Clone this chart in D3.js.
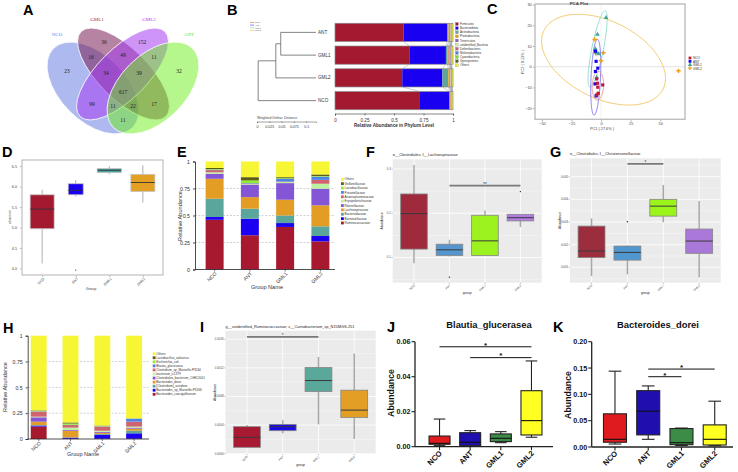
<!DOCTYPE html>
<html>
<head>
<meta charset="utf-8">
<script src="https://cdn.jsdelivr.net/npm/d3@7"></script>
<style>
html,body{margin:0;padding:0;background:#fff;}
svg{display:block;font-family:"Liberation Sans",Arial,Helvetica,sans-serif;}
</style>
</head>
<body>
<svg id="fig" width="738" height="472"></svg>
<script>
// ================= DATA =================
const groups = ["NCO","ANT","GML1","GML2"];

// A: Venn diagram of shared OTUs
const vennSets = ["NCO","GML1","GML2","ANT"];
const vennKeys = ["1000","0100","0010","0001","1100","0110","0011","1110","0111","1111","1010","0101","1011","1101","1001"];
const vennCounts = [23,36,152,32,16,49,11,34,39,617,99,17,11,22,11];

// B: phylum level + UPGMA tree
const phyla = ["Firmicutes","Bacteroidetes","Actinobacteria","Proteobacteria","Tenericutes","unidentified_Bacteria","Deferribacteres","Melainabacteria","Cyanobacteria","Synergistetes","Others"];
const phylumGroups = ["ANT","GML1","GML2","NCO"];
const phylumANT  = [0.58,0.37,0.012,0.008,0.006,0.004,0.003,0.003,0.002,0.002,0.010];
const phylumGML1 = [0.63,0.31,0.012,0.012,0.008,0.004,0.004,0.004,0.003,0.002,0.011];
const phylumGML2 = [0.57,0.34,0.050,0.010,0.008,0.004,0.003,0.003,0.002,0.002,0.008];
const phylumNCO  = [0.72,0.25,0.006,0.006,0.004,0.003,0.002,0.002,0.001,0.001,0.005];
const treeHeights = [0.072,0.082,0.118]; // (ANT,GML1) ; +GML2 ; +NCO
const unifracTicks = [0,0.025,0.05,0.075,0.1];
const abundTicks = [0,0.25,0.5,0.75,1];

// C: PCA
const pcaNCO  = [[-3.7,-5.9],[-3.1,-8.0],[1.4,-8.8],[-2.8,-9.9],[-3.7,-13.7],[-2.4,-12.8]];
const pcaANT  = [[-4.8,7.5],[-4.2,2.6],[-2.8,-0.7],[-4.8,-2.3],[-5.1,-8.3],[-4.2,-14.1]];
const pcaGML1 = [[4.2,23.7],[-3.1,15.6],[-4.8,8.6],[-3.7,6.7],[-2.0,6.2],[-3.7,-5.2]];
const pcaGML2 = [[-5.4,13.2],[2.0,6.7],[0.0,2.9],[-4.5,6.5],[65.5,-2.0],[-3.1,-13.3]];
// ellipse: centre, conjugate semi-diameters (data units)
const pcaEllNCO  = {c:[-2.7,-9.2], u:[0.4,6.9],   v:[4.8,0]};
const pcaEllANT  = {c:[-4.5,-5.1], u:[1.4,18.3],  v:[4.0,0]};
const pcaEllGML1 = {c:[-2.95,8.55],u:[6.35,18.45],v:[5.0,0]};
const pcaEllGML2 = {c:[2.1,3.4],   u:[52.4,-9.0], v:[0,20]};
const pcaXTicks = [-50,-25,0,25,50];
const pcaYTicks = [-20,-10,0,10,20,30];

// D: Shannon index  [min,q1,median,q3,max]
const shannonStats = [[4.12,4.97,5.45,5.80,5.92],[5.76,5.80,5.91,6.07,6.16],[6.30,6.34,6.40,6.44,6.50],[5.61,5.88,6.10,6.30,6.52]];
const shannonOutliers = [[],[3.96],[],[]];
const shannonTicks = [4.0,4.5,5.0,5.5,6.0,6.5];

// E: family level
const familyNames = ["Ruminococcaceae","Barnesiellaceae","Bacteroidaceae","Lachnospiraceae","Rikenellaceae","Erysipelotrichaceae","Anaeroplasmataceae","Prevotellaceae","Lactobacillaceae","Veillonellaceae","Others"];
const familyNCO  = [0.460,0.026,0.169,0.185,0.046,0.014,0.020,0.005,0.005,0.010,0.060];
const familyANT  = [0.317,0.153,0.093,0.107,0.115,0.005,0.005,0.005,0.025,0.030,0.145];
const familyGML1 = [0.394,0.036,0.070,0.146,0.154,0.010,0.005,0.025,0.005,0.010,0.145];
const familyGML2 = [0.260,0.050,0.090,0.194,0.154,0.046,0.036,0.030,0.005,0.015,0.120];

// F: Lachnospiraceae
const lachnoStats = [[0.0872,0.119,0.1992,0.2436,0.309],[0.1023,0.1045,0.1173,0.130,0.140],[0.1045,0.1045,0.1376,0.1955,0.206],[0.169,0.1827,0.190,0.1977,0.1977]];
const lachnoOutliers = [[],[0.0556],[],[0.249]];
const lachnoTicks = [0.1,0.2,0.3];

// G: Christensenellaceae
const christStats = [[0.00062,0.00143,0.00172,0.00282,0.00316],[0.00069,0.00132,0.00166,0.00194,0.00196],[0.00299,0.00326,0.0037,0.0040,0.00463],[0.00056,0.00162,0.00216,0.00269,0.00393]];
const christOutliers = [[],[0.00301],[],[]];
const christTicks = [0.001,0.002,0.003,0.004,0.005];

// H: species level
const speciesNames = ["Bacteroides_caecigallinarum","Bacteroides_sp_Marseille-P3166","[Clostridium]_scindens","Bacteroides_dorei","Clostridiales_bacterium_CHKCI001","bacterium_ic1379","Clostridium_sp_Marseille-P3244","Blautia_glucerasea","Escherichia_coli","Lactobacillus_salivarius","Others"];
const speciesNCO  = [0.120,0.010,0.005,0.033,0.042,0.006,0.049,0.003,0.004,0.005,0.723];
const speciesANT  = [0.002,0.011,0.003,0.064,0.007,0.023,0.025,0.003,0.012,0.010,0.840];
const speciesGML1 = [0.002,0.038,0.008,0.012,0.010,0.010,0.040,0.003,0.003,0.004,0.870];
const speciesGML2 = [0.002,0.053,0.025,0.020,0.010,0.010,0.048,0.029,0.002,0.001,0.800];

// I: Carnobacterium sp.
const carnoStats = [[0.0000884,0.0000884,0.000228,0.000377,0.0004],[0.000284,0.000321,0.000377,0.000409,0.00047],[0.000409,0.00087,0.001023,0.001205,0.001353],[0.000205,0.000507,0.000609,0.000888,0.0014]];
const carnoTicks = [0,0.0004,0.0008,0.0012,0.0016];

// J: Blautia_glucerasea
const blautiaStats = [[0.0006,0.0014,0.0019,0.0061,0.0158],[0.0002,0.0006,0.0025,0.0080,0.0092],[0.0023,0.0029,0.0048,0.0073,0.0086],[0.0054,0.0067,0.0149,0.0320,0.0490]];
const blautiaTicks = [0,0.02,0.04,0.06];

// K: Bacteroides_dorei
const doreiStats = [[0.0057,0.009,0.0146,0.063,0.144],[0.0146,0.023,0.068,0.107,0.116],[0.003,0.0044,0.0082,0.035,0.036],[0.0025,0.0038,0.0146,0.042,0.087]];
const doreiTicks = [0,0.05,0.10,0.15,0.20];

// ================= STYLE =================
const phylumColors = ["#A3192F","#1A00F0","#5FA69A","#E8A020","#8A5BD0","#C8F0A0","#C86464","#4F7CE0","#7CDD20","#5A5A1A","#F0F020"];
const stackColors  = ["#A6192E","#1C00F2","#5BA69C","#E39D25","#8456D6","#BDF2A0","#D0646E","#4E82E8","#8CF028","#5B5B14","#F6F634"];

const svg = d3.select("#fig");
svg.append("rect").attr("width",738).attr("height",472).attr("fill","#fff");

function box(g, cx, bw, s, y, st){
  g.append("line").attr("x1",cx).attr("x2",cx).attr("y1",y(s[4])).attr("y2",y(s[3])).attr("stroke",st.wc).attr("stroke-width",st.ww);
  g.append("line").attr("x1",cx).attr("x2",cx).attr("y1",y(s[1])).attr("y2",y(s[0])).attr("stroke",st.wc).attr("stroke-width",st.ww);
  if(st.cap){ [s[0],s[4]].forEach(v=>g.append("line").attr("x1",cx-bw*st.cap/2).attr("x2",cx+bw*st.cap/2).attr("y1",y(v)).attr("y2",y(v)).attr("stroke",st.wc).attr("stroke-width",st.ww)); }
  g.append("rect").attr("x",cx-bw/2).attr("width",bw).attr("y",y(s[3])).attr("height",Math.max(0.6,y(s[1])-y(s[3])))
    .attr("fill",st.fill).attr("stroke",st.bc).attr("stroke-width",st.bw);
  g.append("line").attr("x1",cx-bw/2).attr("x2",cx+bw/2).attr("y1",y(s[2])).attr("y2",y(s[2])).attr("stroke",st.mc).attr("stroke-width",st.mw);
}

// ================= A =================
(function(){
  const g = svg.append("g");
  const shapes = [
    {cx:93,   cy:88, rx:56, ry:33, rot:45,  fill:"#5E76E0", op:0.5},
    {cx:123.5,cy:74, rx:60, ry:25, rot:45,  fill:"#7A1F55", op:0.55},
    {cx:122.5,cy:74, rx:60, ry:25, rot:-45, fill:"#A53DF0", op:0.55},
    {cx:153,  cy:88, rx:56, ry:33, rot:-45, fill:"#6CF01C", op:0.5}];
  shapes.forEach(s=>g.append("ellipse").attr("rx",s.rx).attr("ry",s.ry)
    .attr("transform",`translate(${s.cx},${s.cy}) rotate(${s.rot})`)
    .attr("fill",s.fill).attr("fill-opacity",s.op).attr("stroke","#fff").attr("stroke-width",0.8));
  function inside(s,x,y){const a=s.rot*Math.PI/180,dx=x-s.cx,dy=y-s.cy;
    const u=dx*Math.cos(a)+dy*Math.sin(a), v=-dx*Math.sin(a)+dy*Math.cos(a);
    return u*u/(s.rx*s.rx)+v*v/(s.ry*s.ry)<1;}
  // region label = pole of inaccessibility on a 1px grid
  const X0=20,X1=230,Y0=10,Y1=150, W=X1-X0+1;
  const keyAt=(x,y)=>shapes.map(s=>inside(s,x,y)?"1":"0").join("");
  const grid=[];
  for(let y=Y0;y<=Y1;y++) for(let x=X0;x<=X1;x++) grid.push(keyAt(x,y));
  const kk=(x,y)=>(x<X0||x>X1||y<Y0||y>Y1)?"0000":grid[(y-Y0)*W+(x-X0)];
  const pts={}, bnd={};
  for(let y=Y0;y<=Y1;y++) for(let x=X0;x<=X1;x++){
    const k=kk(x,y); if(k==="0000") continue;
    (pts[k]=pts[k]||[]).push([x,y]);
    if(kk(x+1,y)!==k||kk(x-1,y)!==k||kk(x,y+1)!==k||kk(x,y-1)!==k) (bnd[k]=bnd[k]||[]).push([x,y]);
  }
  vennKeys.forEach((k,i)=>{
    const P=pts[k], B=bnd[k]; if(!P) return;
    let best=null, bd=-1;
    P.forEach(p=>{let m=1e9; for(const b of B){const d=(p[0]-b[0])**2+(p[1]-b[1])**2; if(d<m) m=d; if(m<=bd) break;} if(m>bd){bd=m; best=p;}});
    g.append("text").attr("x",best[0]).attr("y",best[1]+2).attr("text-anchor","middle")
     .attr("font-size",5.5).attr("font-family","'Liberation Serif',serif").attr("fill","#222").text(vennCounts[i]);});
  const labCol = ["#6A80E8","#86305F","#A53DF0","#6CDC10"];
  const labPos = [[57,36],[97,21],[149,21],[189,36]];
  vennSets.forEach((n,i)=>g.append("text").attr("x",labPos[i][0]).attr("y",labPos[i][1]).attr("text-anchor","middle")
     .attr("font-size",5).attr("font-family","'Liberation Serif',serif").attr("fill",labCol[i]).text(n));
})();

// ================= B =================
(function(){
  const g = svg.append("g");
  const data = {ANT:phylumANT,GML1:phylumGML1,GML2:phylumGML2,NCO:phylumNCO};
  const x = d3.scaleLinear([0,1],[335,453]);
  const y = d3.scaleBand(phylumGroups,[21,112]).paddingInner(0.2).paddingOuter(0.1);
  const bw = y.bandwidth();
  const cum={};
  phylumGroups.forEach(k=>{let c=0; cum[k]=data[k].map(v=>{const s=c; c+=v; return [s,c];});});
  for(let i=0;i<phylumGroups.length-1;i++){
    const a=phylumGroups[i], b=phylumGroups[i+1];
    for(let j=0;j<phyla.length-1;j++){
      g.append("line").attr("x1",x(cum[a][j][1])).attr("y1",y(a)+bw).attr("x2",x(cum[b][j][1])).attr("y2",y(b))
       .attr("stroke","#9a9a9a").attr("stroke-width",0.5);
    }
  }
  phylumGroups.forEach(k=>{
    cum[k].forEach((c,j)=>g.append("rect").attr("x",x(c[0])).attr("y",y(k)).attr("width",Math.max(0,x(c[1])-x(c[0]))).attr("height",bw).attr("fill",phylumColors[j]));
    g.append("rect").attr("x",x(0)).attr("y",y(k)).attr("width",x(1)-x(0)).attr("height",bw).attr("fill","none").attr("stroke","#8a8a8a").attr("stroke-width",0.7);
  });
  const ax = g.append("g").attr("transform","translate(0,113.5)")
    .call(d3.axisBottom(x).tickValues(abundTicks).tickSize(2).tickFormat(d=>d===0?"0":d===1?"1":String(d)));
  ax.selectAll("text").attr("font-size",4.6).attr("fill","#333");
  ax.selectAll("line,path").attr("stroke","#333").attr("stroke-width",0.6);
  g.append("text").attr("x",394).attr("y",126.5).attr("text-anchor","middle").attr("font-size",4.6).attr("font-weight","bold").attr("fill","#333").text("Relative Abundance in Phylum Level");
  // tree
  const leafX=316, ts=d3.scaleLinear([0,0.1],[0,49]);
  const cy=k=>y(k)+bw/2;
  const n1={x:leafX-ts(treeHeights[0]), y:(cy("ANT")+cy("GML1"))/2};
  const n2={x:leafX-ts(treeHeights[1]), y:(n1.y+cy("GML2"))/2};
  const n3={x:leafX-ts(treeHeights[2]), y:(n2.y+cy("NCO"))/2};
  const p=d3.path();
  p.moveTo(leafX,cy("ANT")); p.lineTo(n1.x,cy("ANT")); p.lineTo(n1.x,cy("GML1")); p.lineTo(leafX,cy("GML1"));
  p.moveTo(n1.x,n1.y); p.lineTo(n2.x,n1.y); p.moveTo(leafX,cy("GML2")); p.lineTo(n2.x,cy("GML2")); p.lineTo(n2.x,n1.y);
  p.moveTo(n2.x,n2.y); p.lineTo(n3.x,n2.y); p.moveTo(leafX,cy("NCO")); p.lineTo(n3.x,cy("NCO")); p.lineTo(n3.x,n2.y);
  g.append("path").attr("d",p.toString()).attr("fill","none").attr("stroke","#666").attr("stroke-width",0.8);
  phylumGroups.forEach(k=>g.append("text").attr("x",318).attr("y",cy(k)+1.6).attr("font-size",4.6).attr("fill","#333").text(k));
  // scale bar
  const sb=d3.scaleLinear([0,0.12],[257,316]);
  g.append("text").attr("x",257).attr("y",118.5).attr("font-size",3.4).attr("fill","#444").text("Weighted Unifrac Distance");
  const sax=g.append("g").attr("transform","translate(0,121.5)").call(d3.axisBottom(sb).tickValues(unifracTicks).tickSize(1.5).tickFormat(d=>String(d)));
  sax.selectAll("text").attr("font-size",3.6).attr("fill","#333").attr("dy","0.5em");
  sax.selectAll("line,path").attr("stroke","#444").attr("stroke-width",0.5);
  // mini legend
  const mini=["NCO","ANT","GML1","GML2"], miniC=["#E06060","#3A3AF0","#7ED6C8","#F0B040"];
  mini.forEach((n,i)=>{g.append("line").attr("x1",250).attr("x2",254).attr("y1",22.5+i*2.6).attr("y2",22.5+i*2.6).attr("stroke",miniC[i]).attr("stroke-width",0.6);
    g.append("text").attr("x",255).attr("y",23.3+i*2.6).attr("font-size",2.2).attr("fill","#666").text(n);});
  // phylum legend
  phyla.forEach((n,i)=>{const yy=22.6+i*4.13;
    g.append("rect").attr("x",455.5).attr("y",yy).attr("width",2.8).attr("height",2.8).attr("fill",phylumColors[i]).attr("stroke","#555").attr("stroke-width",0.2);
    g.append("text").attr("x",460).attr("y",yy+2.4).attr("font-size",3).attr("fill","#333").text(n);});
})();

// ================= C =================
(function(){
  const g=svg.append("g");
  const x=d3.scaleLinear([-55.9,71],[535,685]);
  const y=d3.scaleLinear([-25.4,30.3],[119.3,4]);
  g.append("line").attr("x1",535).attr("x2",685).attr("y1",y(0)).attr("y2",y(0)).attr("stroke","#d0d0d0").attr("stroke-width",0.6);
  g.append("line").attr("x1",x(0)).attr("x2",x(0)).attr("y1",4).attr("y2",119.3).attr("stroke","#e2e2e2").attr("stroke-width",0.5);
  const ells=[[pcaEllGML2,"#F2C560"],[pcaEllGML1,"#86D8CB"],[pcaEllANT,"#7B70F2"],[pcaEllNCO,"#EC8C92"]];
  const line=d3.line().x(d=>x(d[0])).y(d=>y(d[1]));
  ells.forEach(([e,col])=>{
    const pts=d3.range(0,2*Math.PI+0.01,Math.PI/90).map(t=>[e.c[0]+e.u[0]*Math.cos(t)+e.v[0]*Math.sin(t), e.c[1]+e.u[1]*Math.cos(t)+e.v[1]*Math.sin(t)]);
    g.append("path").attr("d",line(pts)).attr("fill","none").attr("stroke",col).attr("stroke-width",0.9);
  });
  const sets=[[pcaGML2,d3.symbolCross,"#F0A020",11],[pcaGML1,d3.symbolTriangle,"#3FA89A",10],[pcaANT,d3.symbolSquare,"#1A00F0",10],[pcaNCO,d3.symbolSquare,"#C0163A",10]];
  sets.forEach(([pts,sym,col,sz])=>pts.forEach(p=>g.append("path").attr("d",d3.symbol().type(sym).size(sz)())
      .attr("transform",`translate(${x(p[0])},${y(p[1])})`).attr("fill",col)));
  g.append("rect").attr("x",535).attr("y",4).attr("width",150).attr("height",115.3).attr("fill","none").attr("stroke","#bdbdbd").attr("stroke-width",1.4);
  const xa=g.append("g").attr("transform","translate(0,120)").call(d3.axisBottom(x).tickValues(pcaXTicks).tickSize(1.5).tickPadding(0.8));
  const ya=g.append("g").attr("transform","translate(534.3,0)").call(d3.axisLeft(y).tickValues(pcaYTicks).tickSize(1.5).tickPadding(1.2));
  [xa,ya].forEach(a=>{a.select(".domain").remove(); a.selectAll("text").attr("font-size",3.8).attr("fill","#444"); a.selectAll("line").attr("stroke","#666").attr("stroke-width",0.5);});
  g.append("text").attr("x",602).attr("y",129.5).attr("text-anchor","middle").attr("font-size",3.8).attr("fill","#444").text("PC1 ( 27.6% )");
  g.append("text").attr("transform","translate(524,62) rotate(-90)").attr("text-anchor","middle").attr("font-size",3.8).attr("fill","#444").text("PC2 ( 9.13% )");
  g.append("text").attr("x",579).attr("y",4.8).attr("text-anchor","middle").attr("font-size",4.4).attr("font-weight","bold").attr("fill","#444").text("PCA Plot");
  const lg=[["NCO",d3.symbolSquare,"#C0163A"],["ANT",d3.symbolSquare,"#1A00F0"],["GML1",d3.symbolTriangle,"#3FA89A"],["GML2",d3.symbolCross,"#F0A020"]];
  lg.forEach(([n,sym,col],i)=>{g.append("path").attr("d",d3.symbol().type(sym).size(8)()).attr("transform",`translate(690,${58+i*3.4})`).attr("fill",col);
    g.append("text").attr("x",693).attr("y",59.3+i*3.4).attr("font-size",3.2).attr("fill","#333").text(n);});
})();

// ================= D =================
(function(){
  const g=svg.append("g");
  const x=d3.scalePoint(groups,[22,163]).padding(0.6);
  const y=d3.scaleLinear([3.84,6.65],[275,160]);
  const cols=["#A3192F","#1A00F0","#4AA39A","#E3A024"], widths=[24,15,24,24];
  groups.forEach((k,i)=>{box(g,x(k),widths[i],shannonStats[i],y,{wc:"#9a9a9a",ww:0.8,bc:"#c4c4c4",bw:0.8,mc:"#333",mw:0.9,fill:cols[i]});
    shannonOutliers[i].forEach(v=>g.append("circle").attr("cx",x(k)).attr("cy",y(v)).attr("r",0.6).attr("fill","#333"));});
  g.append("rect").attr("x",22).attr("y",160).attr("width",141).attr("height",115).attr("fill","none").attr("stroke","#aaa").attr("stroke-width",0.9);
  const ya=g.append("g").attr("transform","translate(21.5,0)").call(d3.axisLeft(y).tickValues(shannonTicks).tickSize(1.5).tickFormat(d3.format(".1f")));
  const xa=g.append("g").attr("transform","translate(0,275.5)").call(d3.axisBottom(x).tickSize(1.5));
  [xa,ya].forEach(a=>{a.select(".domain").remove(); a.selectAll("line").attr("stroke","#777").attr("stroke-width",0.5);});
  ya.selectAll("text").attr("font-size",3.8).attr("fill","#444");
  xa.selectAll("text").attr("font-size",3.6).attr("fill","#444").attr("text-anchor","end").attr("dy",0).attr("y",3).attr("transform","rotate(-45) translate(-1,1)");
  g.append("text").attr("x",91).attr("y",290).attr("text-anchor","middle").attr("font-size",3.8).attr("fill","#444").text("Group");
  g.append("text").attr("transform","translate(11,217) rotate(-90)").attr("text-anchor","middle").attr("font-size",3.6).attr("fill","#444").text("shannon");
})();

// ================= stacked (E, H) =================
function stackedPanel(o){
  const g=svg.append("g");
  const x=d3.scaleBand(groups,[o.bx0,o.bx1]).paddingInner(o.pi).paddingOuter(o.po);
  const y=d3.scaleLinear([0,1],[o.y0,o.y1]);
  [0.25,0.5,0.75].forEach(t=>g.append("line").attr("x1",o.ax0).attr("x2",o.ax1).attr("y1",y(t)).attr("y2",y(t))
     .attr("stroke","#b0b0b0").attr("stroke-width",0.6).attr("stroke-dasharray","2,1.5"));
  groups.forEach((k,i)=>{let c=0; o.values[i].forEach((v,j)=>{g.append("rect").attr("x",x(k)).attr("width",x.bandwidth()).attr("y",y(c+v)).attr("height",Math.max(0,y(c)-y(c+v))).attr("fill",stackColors[j]); c+=v;});});
  const ya=g.append("g").attr("transform",`translate(${o.ax0},0)`).call(d3.axisLeft(y).tickValues(abundTicks).tickSize(2).tickFormat(d=>d===0?"0":d===1?"1":String(d)));
  ya.selectAll("text").attr("font-size",5.2).attr("fill","#333");
  ya.selectAll("line,path").attr("stroke","#222").attr("stroke-width",0.8);
  g.append("line").attr("x1",o.ax0).attr("x2",o.ax1).attr("y1",o.y0).attr("y2",o.y0).attr("stroke","#222").attr("stroke-width",0.8);
  groups.forEach(k=>{const cx=x(k)+x.bandwidth()/2;
    g.append("line").attr("x1",cx).attr("x2",cx).attr("y1",o.y0).attr("y2",o.y0+2).attr("stroke","#222").attr("stroke-width",0.6);
    g.append("text").attr("transform",`translate(${cx+2.5},${o.y0+4.5}) rotate(-45)`).attr("text-anchor","end").attr("font-size",5).attr("fill","#333").text(k);});
  g.append("text").attr("x",o.xlab[0]).attr("y",o.xlab[1]).attr("text-anchor","middle").attr("font-size",5.6).attr("fill","#333").text("Group Name");
  g.append("text").attr("transform",`translate(${o.ylab[0]},${o.ylab[1]}) rotate(-90)`).attr("text-anchor","middle").attr("font-size",5.6).attr("fill","#333").text("Relative Abundance");
  const n=o.names.length;
  for(let i=n-1;i>=0;i--){const yy=o.lg[1]+(n-1-i)*o.lg[2];
    g.append("rect").attr("x",o.lg[0]).attr("y",yy-1.4).attr("width",2.8).attr("height",2.8).attr("fill",stackColors[i]);
    g.append("text").attr("x",o.lg[0]+3.6).attr("y",yy+1.1).attr("font-size",3.1).attr("fill","#333").text(o.names[i]);}
}
stackedPanel({values:[familyNCO,familyANT,familyGML1,familyGML2],names:familyNames,bx0:197,bx1:338,pi:0.49,po:0.245,
  y0:269.5,y1:161.5,ax0:195,ax1:335,xlab:[267,288.5],ylab:[181.5,216],lg:[341,179.3,4.37]});
stackedPanel({values:[speciesNCO,speciesANT,speciesGML1,speciesGML2],names:speciesNames,bx0:22.8,bx1:150,pi:0.5,po:0.25,
  y0:439,y1:335.7,ax0:27.7,ax1:149,xlab:[83,456],ylab:[6.5,387],lg:[152.7,353.7,4.06]});

// ================= ggplot style (F, G, I) =================
function ggPanel(o){
  const g=svg.append("g");
  const x=d3.scalePoint(groups,[o.x0,o.x1]).padding(0.6);
  const y=d3.scaleLinear(o.domain,[o.y1,o.y0]);
  g.append("rect").attr("x",o.x0).attr("y",o.y0).attr("width",o.x1-o.x0).attr("height",o.y1-o.y0).attr("fill","#EBEBEB");
  const minor=[];
  for(let i=0;i<o.ticks.length-1;i++) minor.push((o.ticks[i]+o.ticks[i+1])/2);
  const st=o.ticks[1]-o.ticks[0];
  minor.push(o.ticks[0]-st/2, o.ticks[o.ticks.length-1]+st/2);
  minor.filter(v=>v>o.domain[0]&&v<o.domain[1]).forEach(v=>g.append("line").attr("x1",o.x0).attr("x2",o.x1).attr("y1",y(v)).attr("y2",y(v)).attr("stroke","#fff").attr("stroke-width",0.35));
  o.ticks.forEach(v=>g.append("line").attr("x1",o.x0).attr("x2",o.x1).attr("y1",y(v)).attr("y2",y(v)).attr("stroke","#fff").attr("stroke-width",0.8));
  groups.forEach(k=>g.append("line").attr("x1",x(k)).attr("x2",x(k)).attr("y1",o.y0).attr("y2",o.y1).attr("stroke","#fff").attr("stroke-width",0.8));
  const bw=x.step()*0.75;
  groups.forEach((k,i)=>{box(g,x(k),bw,o.stats[i],y,{wc:"#a8a8a8",ww:1.5,bc:"#858585",bw:0.8,mc:"#3a3a3a",mw:1.0,fill:o.colors[i]});
    (o.outliers?o.outliers[i]:[]).forEach(v=>g.append("circle").attr("cx",x(k)).attr("cy",y(v)).attr("r",0.7).attr("fill","#222"));});
  const s=o.sig;
  g.append("line").attr("x1",x(s[0])).attr("x2",x(s[1])).attr("y1",y(s[2])).attr("y2",y(s[2])).attr("stroke","#7a7a7a").attr("stroke-width",1.7);
  g.append("text").attr("x",(x(s[0])+x(s[1]))/2).attr("y",y(s[2])+0.2).attr("text-anchor","middle").attr("font-size",4.5).attr("fill","#333").text(s[3]);
  o.ticks.forEach(v=>{g.append("line").attr("x1",o.x0-1.2).attr("x2",o.x0).attr("y1",y(v)).attr("y2",y(v)).attr("stroke","#555").attr("stroke-width",0.4);
    g.append("text").attr("x",o.x0-1.8).attr("y",y(v)+1).attr("text-anchor","end").attr("font-size",2.9).attr("fill","#4d4d4d").text(o.fmt(v));});
  groups.forEach(k=>{g.append("line").attr("x1",x(k)).attr("x2",x(k)).attr("y1",o.y1).attr("y2",o.y1+1.2).attr("stroke","#555").attr("stroke-width",0.4);
    g.append("text").attr("transform",`translate(${x(k)+1},${o.y1+3}) rotate(-45)`).attr("text-anchor","end").attr("font-size",2.9).attr("fill","#4d4d4d").text(k);});
  g.append("text").attr("x",o.x0).attr("y",o.y0-3).attr("font-size",3.9).attr("fill","#222").text(o.title);
  g.append("text").attr("x",(o.x0+o.x1)/2).attr("y",o.y1+11.5).attr("text-anchor","middle").attr("font-size",3.4).attr("fill","#222").text("group");
  g.append("text").attr("transform",`translate(${o.x0-9.5},${(o.y0+o.y1)/2}) rotate(-90)`).attr("text-anchor","middle").attr("font-size",3.4).attr("fill","#222").text("Abundance");
}
ggPanel({x0:392.7,x1:541.7,y0:159.3,y1:282.7,domain:[0.043,0.322],ticks:lachnoTicks,fmt:d3.format(".1f"),
  stats:lachnoStats,outliers:lachnoOutliers,colors:["#9E2A3C","#5596CE","#9BF21E","#B07CE0"],
  title:"o__Clostridiales; f__Lachnospiraceae",sig:["ANT","GML2",0.2624,"**"]});
ggPanel({x0:570,x1:720.7,y0:158.3,y1:282.7,domain:[0.000324,0.00581],ticks:christTicks,fmt:d3.format(".3f"),
  stats:christStats,outliers:christOutliers,colors:["#9B2D3D","#5097D0","#9BF41A","#A978D8"],
  title:"o__Clostridiales; f__Christensenellaceae",sig:["ANT","GML1",0.00556,"*"]});
ggPanel({x0:225.5,x1:375.7,y0:330.7,y1:454,domain:[-0.000005,0.00172],ticks:carnoTicks,fmt:d3.format(".4f"),
  stats:carnoStats,outliers:null,colors:["#A81932","#1A0BE8","#5AA89A","#E39E25"],
  title:"g__unidentified_Ruminococcaceae; s__Carnobacterium_sp_N15MGS-251",sig:["NCO","GML1",0.001633,"*"]});

// ================= prism style (J, K) =================
function prismPanel(o){
  const g=svg.append("g");
  const x=d3.scalePoint(groups,[o.x0,o.xr]).padding(o.pad);
  const y=d3.scaleLinear([0,o.ticks[o.ticks.length-1]],[o.yb,o.yt]);
  const cols=["#E01B1E","#1F0FAE","#3C8C48","#FFFF22"];
  groups.forEach((k,i)=>box(g,x(k),o.bw,o.stats[i],y,{wc:"#222",ww:1.1,cap:0.55,bc:"#222",bw:1.1,mc:"#111",mw:1.1,fill:cols[i]}));
  g.append("line").attr("x1",o.x0).attr("x2",o.x0).attr("y1",o.yb).attr("y2",o.yt).attr("stroke","#222").attr("stroke-width",1.3);
  g.append("line").attr("x1",o.x0).attr("x2",o.xe).attr("y1",o.yb).attr("y2",o.yb).attr("stroke","#222").attr("stroke-width",1.3);
  o.ticks.forEach(v=>{g.append("line").attr("x1",o.x0-3.5).attr("x2",o.x0).attr("y1",y(v)).attr("y2",y(v)).attr("stroke","#222").attr("stroke-width",1.1);
    g.append("text").attr("x",o.x0-4.5).attr("y",y(v)+2.6).attr("text-anchor","end").attr("font-size",7.2).attr("font-weight","bold").attr("fill","#111").text(d3.format(".2f")(v));});
  groups.forEach(k=>{g.append("line").attr("x1",x(k)).attr("x2",x(k)).attr("y1",o.yb).attr("y2",o.yb+3.5).attr("stroke","#222").attr("stroke-width",1.1);
    g.append("text").attr("transform",`translate(${x(k)+3},${o.yb+7}) rotate(-45)`).attr("text-anchor","end").attr("font-size",7.6).attr("font-weight","bold").attr("fill","#111").text(k);});
  o.sig.forEach(s=>{const a=x(s[0]),b=x(s[1]),yy=y(s[2]);
    g.append("line").attr("x1",a).attr("x2",b).attr("y1",yy).attr("y2",yy).attr("stroke","#111").attr("stroke-width",1);
    g.append("text").attr("x",(a+b)/2).attr("y",yy+0.8).attr("text-anchor","middle").attr("font-size",8).attr("font-weight","bold").attr("fill","#111").text("*");});
  g.append("text").attr("x",o.tx).attr("y",328.3).attr("text-anchor","middle").attr("font-size",9.4).attr("font-weight","bold").attr("fill","#111").text(o.title);
  g.append("text").attr("transform",`translate(${o.lx},${o.ly}) rotate(-90)`).attr("text-anchor","middle").attr("font-size",8.8).attr("font-weight","bold").attr("fill","#111").text("Abundance");
}
prismPanel({x0:415,xr:556,xe:553,pad:0.8,yb:446.7,yt:341.7,bw:21,ticks:blautiaTicks,stats:blautiaStats,
  sig:[["NCO","GML2",0.0571],["ANT","GML2",0.0509]],title:"Blautia_glucerasea",tx:489,lx:394,ly:393});
prismPanel({x0:591.7,xr:738,xe:733,pad:0.7,yb:447,yt:341.7,bw:23,ticks:doreiTicks,stats:doreiStats,
  sig:[["ANT","GML1",0.1335],["ANT","GML2",0.148]],title:"Bacteroides_dorei",tx:658,lx:571,ly:395});

// ================= panel letters =================
const letters=[["A",23,15],["B",227,15],["C",487,14],["D",2,157],["E",177,157],["F",366,157],["G",550,157],["H",3,333],["I",200,332],["J",387,332],["K",553,332]];
letters.forEach(([t,x,y])=>svg.append("text").attr("x",x).attr("y",y).attr("font-size",14.5).attr("font-weight","bold").attr("fill","#000").text(t));
</script>
</body>
</html>
